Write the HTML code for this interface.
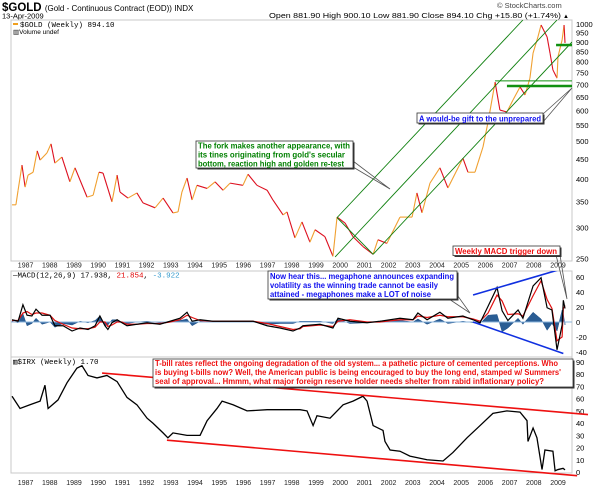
<!DOCTYPE html>
<html><head><meta charset="utf-8"><style>
html,body{margin:0;padding:0;background:#fff;}
#wrap{position:relative;width:600px;height:488px;overflow:hidden;font-family:"Liberation Sans",Arial,sans-serif;}
svg{position:absolute;left:0;top:0;}
</style></head><body>
<div id="wrap">
<svg id="chart" width="600" height="488" viewBox="0 0 600 488">
<defs>
<clipPath id="cTop"><rect x="11" y="20" width="561" height="241"/></clipPath>
<clipPath id="cMacd"><rect x="11" y="271" width="561" height="85"/></clipPath>
<clipPath id="cIrx"><rect x="11" y="357" width="561" height="116"/></clipPath>
</defs>
<text x="2" y="11" font-size="11.5" font-weight="bold" fill="#000">$GOLD <tspan font-size="8" font-weight="normal">(Gold - Continuous Contract (EOD)) INDX</tspan></text>
<text x="2" y="18.5" font-size="7.5" fill="#000">13-Apr-2009</text>
<text x="497" y="8" font-size="7.5" fill="#444">© StockCharts.com</text>
<text x="269" y="18" font-size="7.5" fill="#000" textLength="292" lengthAdjust="spacingAndGlyphs">Open 881.90  High 900.10  Low 881.90  Close 894.10  Chg +15.80 (+1.74%)</text>
<text x="563" y="18" font-size="6" fill="#000">▲</text>
<rect x="11" y="20" width="561" height="241" fill="none" stroke="#c8c8c8"/>
<rect x="11" y="271" width="561" height="86" fill="none" stroke="#c8c8c8"/>
<rect x="11" y="357" width="561" height="116" fill="none" stroke="#c8c8c8"/>
<rect x="13" y="23" width="5" height="2" fill="#f0a020"/>
<text x="20" y="27" font-size="7.5" font-family="Liberation Mono, monospace" fill="#000">$GOLD (Weekly) 894.10</text>
<text x="13" y="34" font-size="6.5" fill="#000">▥Volume undef</text>
<text x="13" y="277.5" font-size="7.5" font-family="Liberation Mono, monospace">—MACD(12,26,9) 17.938, <tspan fill="#e00000">21.854</tspan>, <tspan fill="#3399cc">-3.922</tspan></text>
<text x="13" y="364" font-size="7.5" font-family="Liberation Mono, monospace">▥$IRX (Weekly) 1.70</text>
<g id="gTop" clip-path="url(#cTop)"></g>
<g id="gMacd" clip-path="url(#cMacd)"></g>
<g id="gIrx" clip-path="url(#cIrx)"></g>
<g id="gAxes"></g>
<g id="gNotes"></g>
</svg>
</div>
<script>
// ---- data ----
const goldYears = [1986.44,1986.60,1986.69,1986.85,1986.98,1987.10,1987.31,1987.48,1987.60,1987.88,
1988.05,1988.21,1988.50,1988.83,1989.04,1989.54,1989.79,1990.03,1990.20,1990.57,
1990.78,1990.90,1991.23,1991.60,1991.85,1992.35,1992.68,1993.09,1993.30,1993.46,
1993.67,1993.88,1994.08,1994.50,1994.83,1995.16,1995.45,1995.98,1996.19,1996.56,
1996.98,1997.22,1997.64,1997.80,1998.13,1998.42,1998.75,1998.96,1999.37,1999.70,
1999.87,2000.20,2000.53,2000.94,2001.36,2001.56,2001.93,2002.47,2002.97,2003.17,
2003.38,2003.71,2004.12,2004.45,2005.07,2005.28,2005.57,2005.90,2006.11,2006.40,
2006.60,2006.89,2007.14,2007.43,2007.64,2007.84,2007.97,2008.17,2008.30,2008.55,
2008.67,2008.79,2008.96,2009.00,2009.17,2009.25,2009.29];
const goldPrices = [343,343,374,434,381,409,416,472,447,466,
492,439,455,393,427,359,363,416,414,349,
409,370,357,368,347,337,357,327,329,370,
402,353,385,378,393,374,390,385,411,385,
374,353,323,329,282,310,275,296,284,253,
319,308,284,268,256,279,273,319,319,368,
327,390,427,379,452,416,416,483,560,709,
601,594,638,689,657,726,842,926,994,926,
842,762,726,824,910,994,894];
const macdYears = [1986.44,1986.69,1986.89,1987.06,1987.26,1987.43,1987.68,1988.01,1988.21,1988.55,
1988.92,1989.25,1989.58,1989.87,1990.07,1990.28,1990.40,1990.57,1990.78,1990.98,
1991.19,1991.60,1992.02,1992.55,1992.97,1993.38,1993.67,1993.88,1994.21,1994.74,
1995.57,1996.40,1996.98,1997.51,1998.05,1998.34,1998.46,1999.17,1999.70,1999.91,
2000.40,2001.11,2001.64,2002.47,2003.01,2003.21,2003.59,2004.12,2004.45,2005.07,
2005.49,2005.78,2006.11,2006.48,2006.69,2006.93,2007.35,2007.55,2007.97,2008.30,
2008.55,2008.75,2008.96,2009.17,2009.22,2009.29];
const macdLine = [3,1,23,9,8,17,9,9,-5,-5,
-12,-8,-10,-5,8,-5,-10,-1,3,-1,
-5,-3,-1,-3,1,5,13,1,3,1,
1,1,-5,-8,-12,-8,-5,-3,-8,5,
1,-1,1,5,3,12,3,13,5,8,
3,-1,21,46,15,2,16,5,48,59,
19,16,-37,-4,29,18];
const signalLine = [2,2,12,14,10,12,12,9,2,-3,
-8,-9,-9,-7,0,0,-6,-4,0,0,
-3,-3,-2,-2,0,3,9,6,2,1,
1,1,-2,-6,-10,-9,-6,-4,-6,1,
3,0,0,3,3,8,6,9,7,7,
4,1,12,36,28,10,11,8,35,55,
30,18,-25,-20,18,22];
const irxYears = [1986.44,1986.77,1987.18,1987.60,1987.80,1987.93,1988.34,1988.71,1989.12,1989.33,
1989.58,1989.95,1990.36,1990.78,1991.19,1991.60,1992.02,1992.26,1992.68,1992.88,
1993.09,1993.67,1994.21,1994.50,1994.91,1995.12,1995.57,1996.15,1996.98,1997.80,
1998.34,1998.63,1998.88,1999.04,1999.58,2000.12,2000.53,2000.94,2001.11,2001.36,
2001.77,2001.85,2002.06,2002.47,2002.88,2003.59,2004.25,2004.66,2005.24,2005.78,
2006.31,2006.89,2007.43,2007.72,2007.76,2007.97,2008.13,2008.34,2008.46,2008.79,
2008.88,2009.00,2009.21,2009.29];
const irxValues = [62,52,55,58,71,52,59,73,85,87,
79,77,79,74,61,55,44,40,32,28,
32,30,30,42,52,58,55,50,51,51,
51,50,38,46,44,55,58,62,58,38,
34,25,18,17,13,10,9,16,28,38,
48,50,49,42,25,36,28,2,18,17,
1,2,3,1.7];
const yearLabels = [1987,1988,1989,1990,1991,1992,1993,1994,1995,1996,1997,1998,1999,2000,2001,2002,2003,2004,2005,2006,2007,2008,2009];
const priceTicks = [1000,950,900,850,800,750,700,650,600,550,500,450,400,350,300,250];
const macdTicks = [60,40,20,0,-20,-40];
const irxTicks = [90,80,70,60,50,40,30,20,10,0];

// ---- axes ----
const X = t => 316 + (t - 1999) * 24.2;
const YP = p => 24 + 169 * Math.log(1000 / p);
const YM = v => 322 - v * 0.75;
const YI = v => 472 - v * 1.222;
const NS = 'http://www.w3.org/2000/svg';
function mk(tag, attrs, parent){const e=document.createElementNS(NS,tag);for(const k in attrs)e.setAttribute(k,attrs[k]);parent.appendChild(e);return e;}
const gTop=document.getElementById('gTop'),gMacd=document.getElementById('gMacd'),gIrx=document.getElementById('gIrx'),gAxes=document.getElementById('gAxes'),gNotes=document.getElementById('gNotes');

// gold series, segment colour up=orange, down=red
for(let i=1;i<goldYears.length;i++){
  const up=goldPrices[i]>=goldPrices[i-1];
  const s=mk('line',{x1:X(goldYears[i-1]),y1:YP(goldPrices[i-1]),x2:X(goldYears[i]),y2:YP(goldPrices[i]),stroke:up?'#f0a030':'#dd1020','stroke-width':1.1},gTop);
  
  
}
// fork lines (year, price)
const forkLines=[[1999.87,318,2007.55,1024],[1999.79,252,2008.96,1024],[2001.36,256,2009.58,899],[1999.87,318,2001.36,256]];
forkLines.forEach(f=>{
  const l=mk('line',{x1:X(f[0]),y1:YP(f[1]),x2:X(f[2]),y2:YP(f[3]),stroke:'#108010','stroke-width':0.9},gTop);
  
  
});
// horizontal support lines
const hLines=[[2006.40,714,1],[2006.89,693,2.5],[2008.92,883,2.5]];
hLines.forEach(h=>{
  const l=mk('line',{x1:X(h[0]),y1:YP(h[1]),x2:572,y2:YP(h[1]),stroke:'#109010','stroke-width':h[2]},gTop);
  
  
});

// MACD histogram
let hp='M'+X(macdYears[0])+','+YM(0);
macdYears.forEach((t,i)=>{hp+=' L'+X(t)+','+YM(macdLine[i]-signalLine[i]);});
hp+=' L'+X(macdYears[macdYears.length-1])+','+YM(0)+' Z';
const hist=mk('path',{d:hp,fill:'#2a5d94',stroke:'#1e4f86','stroke-width':0.5},gMacd);


const zl=mk('line',{x1:11,y1:YM(0),x2:572,y2:YM(0),stroke:'#8ab4dd','stroke-width':1},gMacd);


const sigPts=macdYears.map((t,i)=>X(t)+','+YM(signalLine[i])).join(' ');
const sig=mk('polyline',{points:sigPts,fill:'none',stroke:'#e01010','stroke-width':1.2},gMacd);


const macPts=macdYears.map((t,i)=>X(t)+','+YM(macdLine[i])).join(' ');
const mac=mk('polyline',{points:macPts,fill:'none',stroke:'#000','stroke-width':1.2},gMacd);


// megaphone
[[2005.49,36,2009.29,72],[2005.49,0,2009.22,-42]].forEach(m=>{
  const l=mk('line',{x1:X(m[0]),y1:YM(m[1]),x2:X(m[2]),y2:YM(m[3]),stroke:'#1030e0','stroke-width':1.6},gMacd);
  
  
});

// IRX
const irxPts=irxYears.map((t,i)=>X(t)+','+YI(irxValues[i])).join(' ');
const irx=mk('polyline',{points:irxPts,fill:'none',stroke:'#000','stroke-width':1.3},gIrx);


[[1990.16,81,2010.24,47],[1992.84,26,2009.79,-3]].forEach(c=>{
  const l=mk('line',{x1:X(c[0]),y1:YI(c[1]),x2:X(c[2]),y2:YI(c[3]),stroke:'#ee1010','stroke-width':1.6},gNotes);
  
  
});

// axes labels
priceTicks.forEach(p=>{
  const t=mk('text',{x:576,y:YP(p)+3,'font-size':7.5,fill:'#000'},gAxes);t.textContent=p;
  
  
});
macdTicks.forEach(v=>{
  const t=mk('text',{x:576,y:YM(v)+3,'font-size':7.5,fill:'#000'},gAxes);t.textContent=v;
  
  
});
irxTicks.forEach(v=>{
  const t=mk('text',{x:576,y:YI(v)+3,'font-size':7.5,fill:'#000'},gAxes);t.textContent=v;
  
  
});
yearLabels.forEach(y=>{
  [267.5,485].forEach(yy=>{
    const t=mk('text',{x:X(y),y:yy,'font-size':7,fill:'#222','text-anchor':'middle'},gAxes);t.textContent=y;
    
    
  });
});

// annotations
function note(name,x,y,w,h,color,lines,base,lens){
  const g=mk('g',{},gNotes);
  
  
  mk('rect',{x:x+1.5,y:y+1.5,width:w,height:h,fill:'#333'},g);
  mk('rect',{x:x,y:y,width:w,height:h,fill:'#fff',stroke:'#333','stroke-width':0.8},g);
  lines.forEach((s,i)=>{
    const t=mk('text',{x:x+2,y:base[i],'font-size':8.5,'font-weight':'bold',fill:color,textLength:lens[i],lengthAdjust:'spacingAndGlyphs'},g);
    t.textContent=s;
  });
}
function pointer(name,pts){
  const p=mk('polyline',{points:pts,fill:'none',stroke:'#555','stroke-width':0.8},gNotes);
  
  
}
pointer('fork-note-pointer','353,161 390,189 353,167');
pointer('gift-note-pointer','543,114 572,88 543,122');
pointer('macd-note-pointer','455,292 470,313 449,299');
pointer('trigger-note-pointer','556,255 567,299 560,255');
note('fork-annotation',196,141,157,27,'#008000',["The fork makes another appearance, with","its tines originating from gold's secular","bottom, reaction high and golden re-test"],[148.5,157.5,166.5],[152,147,146]);
note('gift-annotation',417,113,126,10,'#1010ee',["A would-be gift to the unprepared"],[121.5],[122]);
note('macd-annotation',268,271,189,28,'#1010ee',["Now hear this... megaphone announces expanding","volatility as the winning trade cannot be easily","attained - megaphones make a LOT of noise"],[279,288,297],[184,168,161]);
note('trigger-annotation',453,246,107,9.5,'#ee1010',["Weekly MACD trigger down"],[254],[102]);
note('irx-annotation',153,359,420,28,'#ee1010',["T-bill rates reflect the ongoing degradation of the old system... a pathetic picture of cemented perceptions.  Who","is buying t-bills now?  Well, the American public is being encouraged to buy the long end, stamped w/ Summers'","seal of approval... Hmmm, what major foreign reserve holder needs shelter from rabid inflationary policy?"],[366,375,384],[403,406,389]);
</script>
</body></html>
